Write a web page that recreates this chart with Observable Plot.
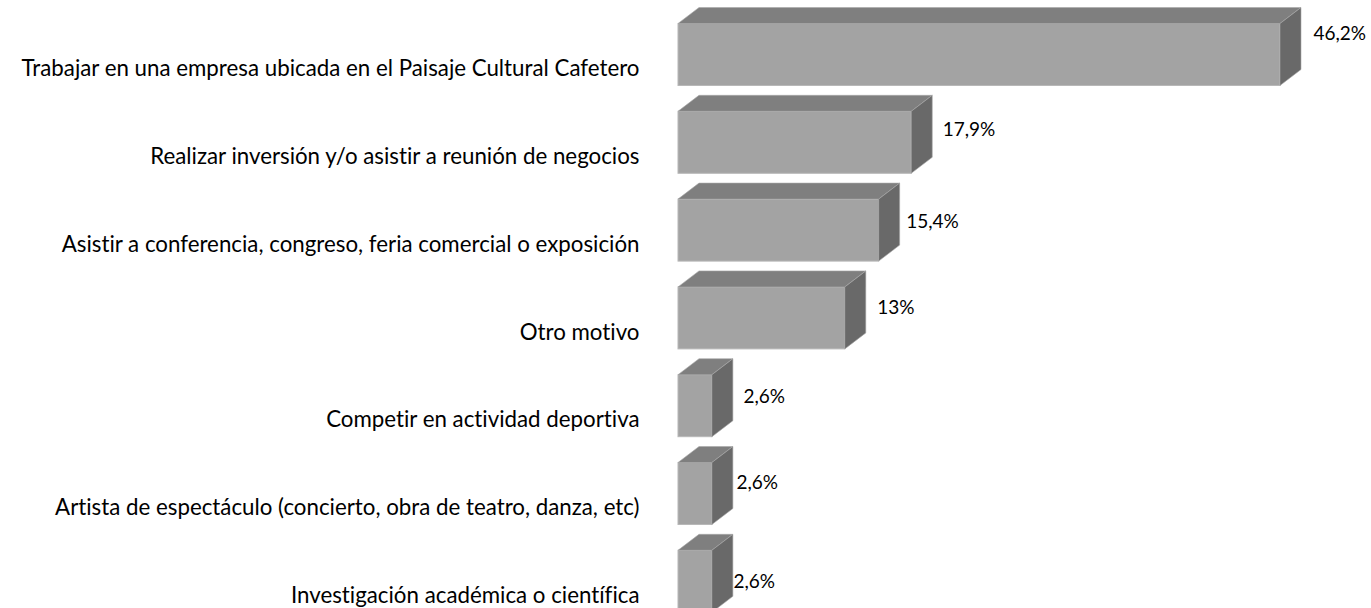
<!DOCTYPE html>
<html><head><meta charset="utf-8">
<style>html,body{margin:0;padding:0;background:#fff;overflow:hidden}</style>
<script src="https://cdn.jsdelivr.net/npm/d3@7"></script>
<script src="https://cdn.jsdelivr.net/npm/@observablehq/plot@0.6"></script>
</head><body><div id="chart"></div>
<script>
const categories = [
  "Trabajar en una empresa ubicada en el Paisaje Cultural Cafetero",
  "Realizar inversión y/o asistir a reunión de negocios",
  "Asistir a conferencia, congreso, feria comercial o exposición",
  "Otro motivo",
  "Competir en actividad deportiva",
  "Artista de espectáculo (concierto, obra de teatro, danza, etc)",
  "Investigación académica o científica"
];
const values = [46.2, 17.9, 15.4, 12.8, 2.6, 2.6, 2.6];
const valueLabels = ["46,2%", "17,9%", "15,4%", "13%", "2,6%", "2,6%", "2,6%"];
const labelDx = [33, 31, 27, 32, 31, 24, 21];
const labelDy = [-21, -13, -9, -10, -9, -11, 0];
const table = categories.map((c, i) => ({c, v: values[i], t: valueLabels[i], i}));

const DEPTH_X = 21, DEPTH_Y = 16;
const depthFaces = (index, {x, y}) => {
  const g = d3.create("svg:g");
  const bw = typeof y.bandwidth === "function" ? y.bandwidth() : y.bandwidth;
  for (const d of table) {
    const x0 = x(0), x1 = x(d.v), t = y(d.c), b = t + bw;
    g.append("polygon")
      .attr("points", [[x0,t],[x0+DEPTH_X,t-DEPTH_Y],[x1+DEPTH_X,t-DEPTH_Y],[x1,t]].join(" "))
      .attr("fill", "#7f7f7f").attr("stroke", "#a8a8a8").attr("stroke-width", 0.6);
    g.append("polygon")
      .attr("points", [[x1,t],[x1+DEPTH_X,t-DEPTH_Y],[x1+DEPTH_X,b-DEPTH_Y],[x1,b]].join(" "))
      .attr("fill", "#696969").attr("stroke", "#a8a8a8").attr("stroke-width", 0.6);
  }
  return g.node();
};

const plot = Plot.plot({
  width: 1371, height: 608,
  marginTop: 0, marginBottom: 0, marginLeft: 0, marginRight: 0,
  style: {fontFamily: "Lato, sans-serif", fontSize: "19px", color: "#000", background: "#fff", fontVariantLigatures: "none"},
  x: {domain: [0, 46.2], range: [678, 1280], axis: null},
  y: {domain: categories, range: [-2.3, 638.1], padding: 0.294, align: 0.5, round: false, label: null},
  marks: [
    Plot.axisY(categories, {
      anchor: "left", tickSize: 0, tickPadding: 39, dy: 14, label: null,
      fontSize: 22.3, fill: "#000",
      textAnchor: "end",
      x: 0, marginLeft: 0
    }),
    Plot.barX(table, {x: "v", y: "c", fill: "#a3a3a3", stroke: "#b8b8b8", strokeWidth: 1}),
    depthFaces,
    ...table.map((d, i) => Plot.text([d], {
      x: "v", y: "c", text: "t", textAnchor: "start",
      dx: labelDx[i], dy: labelDy[i], fontSize: 19, fill: "#000"
    }))
  ]
});
document.getElementById("chart").appendChild(plot);
</script></body></html>
